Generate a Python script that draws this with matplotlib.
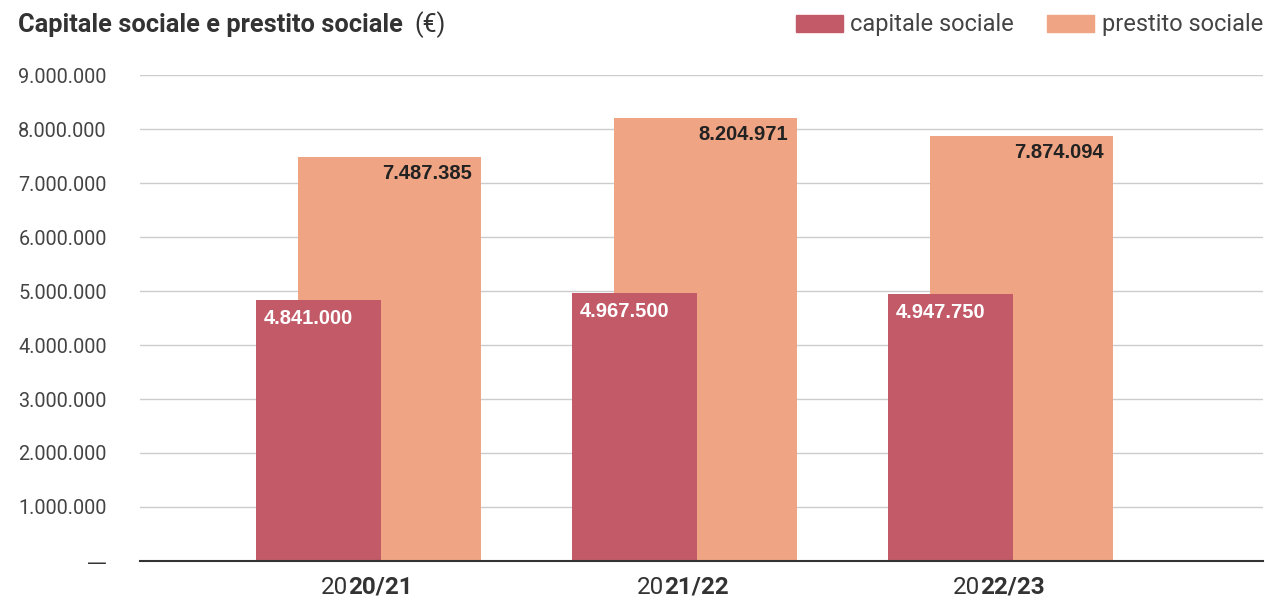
import numpy as np
import matplotlib
matplotlib.use("Agg")
import matplotlib.pyplot as plt

# data
years_prefix = ["20", "20", "20"]
years_bold = ["20/21", "21/22", "22/23"]
capitale = [4841000, 4967500, 4947750]
prestito = [7487385, 8204971, 7874094]
yticks = [0, 1000000, 2000000, 3000000, 4000000, 5000000, 6000000, 7000000, 8000000, 9000000]

col_cap = "#C25A68"
col_pre = "#EFA483"


def fmt(v):
    return f"{v:,}".replace(",", ".")


W, H = 1265, 601
fig = plt.figure(figsize=(W / 100, H / 100), dpi=100)
ax = fig.add_axes([140 / W, (H - 561) / H, (1263 - 140) / W, (561 - 75) / H])

x = np.arange(len(years_bold))
ax.bar(x + 0.0665, prestito, width=0.579, color=col_pre, zorder=2)
ax.bar(x - 0.158, capitale, width=0.396, color=col_cap, zorder=3)

for i in range(len(x)):
    ax.annotate(fmt(capitale[i]), xy=(x[i] - 0.158 - 0.198, capitale[i]),
                xytext=(8, -19), textcoords="offset pixels", ha="left", va="center",
                color="white", fontsize=14.5, fontweight="bold",
                family="Liberation Sans", zorder=4)
    ax.annotate(fmt(prestito[i]), xy=(x[i] + 0.0665 + 0.2895, prestito[i]),
                xytext=(-9, -17), textcoords="offset pixels", ha="right", va="center",
                color="#222222", fontsize=14.5, fontweight="bold",
                family="Liberation Sans", zorder=4)
    ax.annotate(years_prefix[i], xy=(x[i], 0), xytext=(-20, -26),
                textcoords="offset pixels", ha="right", va="center",
                color="#333333", fontsize=17.5, family="Roboto", annotation_clip=False)
    ax.annotate(years_bold[i], xy=(x[i], 0), xytext=(-20, -26),
                textcoords="offset pixels", ha="left", va="center",
                color="#333333", fontsize=17.5, fontweight="bold", family="Roboto",
                annotation_clip=False)

ax.set_xlim(-0.723, 2.831)
ax.set_ylim(0, 9000000)
ax.set_yticks(yticks)
ax.set_yticklabels(["—"] + [fmt(v) for v in yticks[1:]])
ax.set_xticks([])
ax.tick_params(axis="y", length=0, pad=24, labelsize=14.3, labelcolor="#444444")
for lab in ax.get_yticklabels():
    lab.set_family("Roboto")
ax.get_yticklabels()[0].set_family("DejaVu Sans")
ax.get_yticklabels()[0].set_color("#333333")
ax.grid(axis="y", color="#CCCCCC", linewidth=1, zorder=0)
for s in ["top", "right", "left"]:
    ax.spines[s].set_visible(False)
ax.spines["bottom"].set_color("#333333")
ax.spines["bottom"].set_linewidth(1.5)
ax.spines["bottom"].set_zorder(5)

title = fig.text(18 / W, 1 - 25 / H, "Capitale sociale e prestito sociale", fontsize=18.3,
                 fontweight="bold", color="#333333", family="Roboto", va="center")
fig.text(414 / W, 1 - 25 / H, "(€)", fontsize=18, color="#333333",
         family="Roboto", va="center")

h1 = plt.Rectangle((0, 0), 1, 1, color=col_cap)
h2 = plt.Rectangle((0, 0), 1, 1, color=col_pre)
fig.legend([h1, h2], ["capitale sociale", "prestito sociale"], loc="center right",
           bbox_to_anchor=(1284 / W, 1 - 25 / H), ncol=2, frameon=False,
           handlelength=2.0, handleheight=0.7, handletextpad=0.3, columnspacing=1.4,
           prop={"family": "Roboto", "size": 17}, labelcolor="#444444")

fig.savefig("out.png", dpi=100)
